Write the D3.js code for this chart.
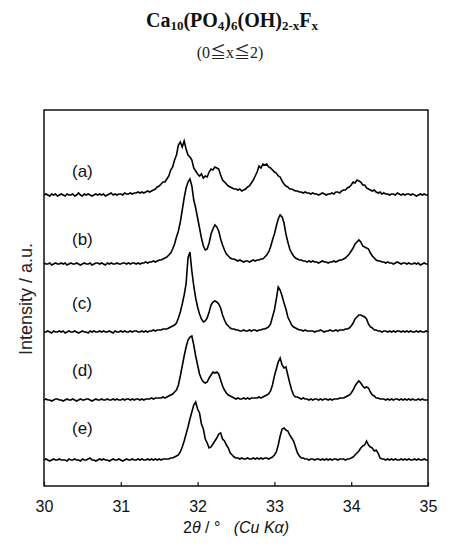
<!DOCTYPE html>
<html>
<head>
<meta charset="utf-8">
<script src="https://cdn.jsdelivr.net/npm/d3@7"></script>
<style>
  body { margin: 0; background: #fff; }
</style>
</head>
<body>
<svg id="chart" width="459" height="548"></svg>
<script>
// XRD patterns sampled every 0.025 deg from 30 to 35 (2theta), intensity in a.u.
const thetaStart = 30;
const thetaStep = 0.025;
const xTicks = [30, 31, 32, 33, 34, 35];
const sampleNames = ["(a)", "(b)", "(c)", "(d)", "(e)"];
const offsets = [291, 222, 154, 86, 26];   // vertical stacking of the patterns (a.u.)

const seriesA = [
  0, 1, 0, -1, 1, 0, 1, -1, 0, 1,
  0, -1, 1, 0, 0, 1, -1, 0, 2, 0,
  -1, 1, 0, 1, 0, -1, 0, 1, 0, 1,
  0, 1, -1, 0, 1, 2, 0, 1, 0, 1,
  1, 0, 2, 1, 1, 2, 1, 2, 2, 3,
  2, 3, 2, 3, 4, 3, 4, 5, 6, 8,
  9, 11, 13, 13, 16, 19, 25, 28, 35, 40,
  50, 53, 48, 54, 46, 40, 38, 35, 27, 24,
  21, 19, 21, 17, 19, 18, 23, 26, 25, 28,
  27, 26, 20, 15, 13, 11, 9, 8, 7, 6,
  6, 5, 6, 4, 5, 6, 8, 9, 12, 15,
  19, 23, 29, 27, 31, 30, 31, 28, 27, 25,
  23, 22, 19, 18, 14, 11, 9, 8, 6, 6,
  5, 4, 4, 3, 3, 2, 3, 2, 2, 1,
  2, 1, 1, 0, 1, 2, 1, 0, 1, 1,
  2, 1, 3, 3, 2, 4, 5, 5, 7, 8,
  10, 13, 12, 15, 14, 13, 10, 10, 7, 6,
  5, 4, 5, 3, 2, 3, 1, 2, 1, 1,
  0, 1, 1, 0, 2, 1, 0, 1, 0, 1,
  1, 0, 1, 0, -1, 0, 1, 0, 1, 0,
  0
];

const seriesB = [
  1, 0, 0, 1, -1, 0, 1, 0, 0, 1,
  0, 1, -1, 0, 1, 0, 0, 1, 0, -1,
  0, 1, 0, 0, 1, -1, 0, 1, 1, 0,
  1, 0, -1, 1, 0, 1, 0, 0, 1, 0,
  0, 1, 1, 0, 1, 0, 1, 1, 0, 1,
  0, 1, 1, 2, 1, 2, 2, 3, 2, 3,
  4, 4, 5, 6, 7, 9, 11, 15, 20, 27,
  33, 42, 54, 66, 76, 82, 85, 78, 64, 56,
  46, 36, 26, 18, 14, 15, 21, 30, 35, 39,
  37, 33, 25, 19, 14, 10, 8, 6, 5, 5,
  4, 3, 4, 3, 2, 3, 3, 2, 3, 4,
  3, 4, 4, 5, 5, 7, 9, 12, 17, 24,
  30, 38, 45, 49, 47, 41, 30, 22, 15, 11,
  8, 6, 5, 4, 4, 3, 3, 2, 3, 2,
  3, 2, 2, 1, 2, 3, 2, 2, 1, 2,
  2, 3, 2, 3, 4, 4, 5, 6, 8, 10,
  13, 16, 20, 22, 24, 22, 18, 17, 16, 15,
  11, 8, 6, 4, 3, 3, 2, 2, 1, 2,
  1, 1, 0, 1, 2, 1, 0, 1, 1, 0,
  1, 0, 0, 1, 0, 1, -1, 0, 1, 0,
  0
];

const seriesC = [
  0, 0, 1, 0, -1, 1, 0, 0, 1, 0,
  1, -1, 0, 1, 0, 0, 1, 0, -1, 0,
  1, 0, 0, -1, 1, 0, 1, 0, 0, 1,
  0, 1, 0, 0, 1, 0, -1, 1, 0, 0,
  1, 0, 1, 0, 0, 1, 0, 1, 1, 0,
  0, 1, 0, 1, 0, 1, 1, 2, 1, 2,
  2, 2, 3, 3, 3, 4, 5, 6, 7, 9,
  14, 20, 28, 37, 48, 74, 80, 61, 46, 34,
  25, 18, 13, 10, 11, 14, 20, 27, 30, 31,
  30, 28, 24, 17, 12, 8, 6, 4, 3, 3,
  2, 2, 1, 1, 2, 1, 1, 2, 1, 2,
  2, 1, 2, 2, 3, 3, 4, 5, 8, 15,
  22, 33, 45, 42, 36, 29, 23, 15, 11, 7,
  5, 4, 3, 2, 2, 1, 2, 1, 1, 1,
  1, 0, 1, 1, 2, 1, 0, 1, 1, 2,
  1, 1, 2, 1, 2, 2, 2, 3, 3, 4,
  6, 9, 13, 15, 17, 17, 16, 15, 13, 8,
  5, 4, 2, 2, 1, 1, 0, 1, 1, 0,
  1, 0, 1, 0, 1, 1, 0, 1, 0, 1,
  0, 1, 0, 0, 1, 0, 1, 0, 0, 1,
  0
];

const seriesD = [
  0, 1, 0, 0, -1, 0, 1, 1, 0, 0,
  -1, 0, 1, 0, 0, 1, 0, -1, 0, 1,
  0, 0, 1, 1, 0, -1, 0, 1, 0, 0,
  1, 0, 0, 1, 0, 0, 1, 0, 1, 0,
  0, 1, 0, 1, 1, 0, 1, 0, 1, 1,
  0, 1, 0, 1, 1, 1, 2, 1, 2, 2,
  2, 2, 3, 2, 3, 4, 5, 6, 8, 10,
  15, 24, 34, 44, 53, 60, 63, 64, 55, 44,
  35, 26, 21, 18, 17, 18, 22, 25, 28, 27,
  28, 26, 20, 14, 10, 7, 5, 4, 3, 2,
  1, 2, 1, 1, 2, 1, 2, 1, 2, 2,
  2, 2, 3, 2, 3, 4, 5, 6, 9, 15,
  24, 31, 38, 42, 35, 32, 33, 25, 17, 10,
  5, 3, 3, 2, 1, 2, 1, 1, 0, 1,
  0, 1, 1, 0, 1, 0, 1, 1, 0, 1,
  0, 1, 1, 1, 2, 2, 2, 3, 4, 5,
  7, 10, 14, 17, 19, 17, 14, 12, 13, 12,
  8, 5, 4, 2, 2, 1, 1, 1, 0, 1,
  0, 1, 0, 1, 1, 0, 1, 0, 1, 0,
  1, 0, 1, 0, 0, 1, 0, 1, 0, 0,
  0
];

const seriesE = [
  0, 1, 0, -1, 0, 1, 0, 0, 1, 0,
  0, 0, -1, 1, 0, 0, 1, 0, 0, -1,
  1, 0, 0, 1, 2, 0, 0, -1, 0, 1,
  0, 1, 0, 0, -1, 0, 1, 0, 0, 1,
  0, -1, 0, 1, 0, 0, 1, 0, 0, 1,
  0, 1, 0, 0, 1, 0, 1, 0, 1, 0,
  1, 0, 1, 1, 1, 1, 2, 2, 3, 4,
  5, 8, 13, 19, 26, 33, 41, 48, 55, 58,
  51, 47, 36, 31, 21, 17, 12, 13, 16, 19,
  22, 26, 27, 21, 19, 15, 12, 7, 5, 3,
  2, 2, 1, 2, 1, 1, 2, 1, 1, 2,
  1, 2, 1, 2, 1, 2, 2, 1, 2, 3,
  5, 8, 15, 24, 31, 32, 30, 29, 25, 22,
  19, 13, 7, 4, 2, 2, 1, 1, 0, 1,
  1, 0, 1, 1, 0, 1, 0, 1, 0, 1,
  0, 1, 1, 0, 1, 1, 1, 0, 1, 1,
  2, 3, 5, 7, 9, 12, 14, 15, 19, 15,
  13, 12, 9, 10, 7, 2, 1, 1, 0, 1,
  0, 1, 0, 1, 0, 0, 1, 0, 1, 0,
  1, 0, 0, 1, 0, 1, 0, 0, 1, 0,
  0
];

const allSeries = [seriesA, seriesB, seriesC, seriesD, seriesE];

// layout
const margin = { top: 110, right: 31, bottom: 62, left: 44 };
const width = 459 - margin.left - margin.right;
const height = 548 - margin.top - margin.bottom;
const labelLift = [18, 19, 23, 24, 26];
const sansFont = "'Liberation Sans', Arial, Helvetica, sans-serif";
const serifFont = "'Liberation Serif', 'Times New Roman', 'Noto Sans CJK JP', serif";

const svg = d3.select("#chart");

const x = d3.scaleLinear().domain([30, 35]).range([margin.left, margin.left + width]);
const y = d3.scaleLinear().domain([0, 376]).range([margin.top + height, margin.top]);

// title with subscripts
const titleParts = [["Ca", 0], ["10", 1], ["(PO", 0], ["4", 1], [")", 0], ["6", 1],
                    ["(OH)", 0], ["2-x", 1], ["F", 0], ["x", 1]];
const title = svg.append("text")
    .attr("x", 232)
    .attr("y", 27)
    .attr("text-anchor", "middle")
    .attr("font-family", serifFont)
    .attr("font-weight", "bold")
    .attr("font-size", "20px")
    .attr("fill", "#111");
let shifted = false;
titleParts.forEach(([t, sub]) => {
    const dy = sub && !shifted ? 3 : (!sub && shifted ? -3 : 0);
    shifted = !!sub;
    title.append("tspan")
        .attr("dy", dy)
        .attr("font-size", sub ? "13px" : "20px")
        .text(t);
});

svg.append("text")
    .attr("x", 230)
    .attr("y", 58)
    .attr("text-anchor", "middle")
    .attr("font-family", serifFont)
    .attr("font-size", "16px")
    .attr("fill", "#222")
    .text("(0≦x≦2)");

// patterns
allSeries.forEach((values, k) => {
    const line = d3.line()
        .x((d, i) => x(thetaStart + i * thetaStep))
        .y(d => y(d + offsets[k]));
    svg.append("path")
        .datum(values)
        .attr("fill", "none")
        .attr("stroke", "#000")
        .attr("stroke-width", 1.6)
        .attr("stroke-linejoin", "miter")
        .attr("d", line);

    svg.append("text")
        .attr("x", 72)
        .attr("y", y(offsets[k]) - labelLift[k])
        .attr("font-family", sansFont)
        .attr("font-size", "17px")
        .attr("fill", "#111")
        .text(sampleNames[k]);
});

// frame
svg.append("rect")
    .attr("x", margin.left)
    .attr("y", margin.top)
    .attr("width", width)
    .attr("height", height)
    .attr("fill", "none")
    .attr("stroke", "#111")
    .attr("stroke-width", 1.5);

// x axis, ticks pointing inwards
const xAxis = svg.append("g")
    .attr("transform", `translate(0, ${margin.top + height})`)
    .call(d3.axisBottom(x)
        .tickValues(xTicks)
        .tickSizeInner(-4)
        .tickSizeOuter(0)
        .tickPadding(15)
        .tickFormat(d3.format("d")));
xAxis.select(".domain").remove();
xAxis.selectAll(".tick line").attr("stroke", "#111").attr("stroke-width", 1.2);
xAxis.selectAll(".tick text")
    .attr("font-family", sansFont)
    .attr("font-size", "16px")
    .attr("fill", "#111");

const xLabel = svg.append("text")
    .attr("x", 236)
    .attr("y", 533)
    .attr("text-anchor", "middle")
    .attr("font-family", sansFont)
    .attr("font-size", "16px")
    .attr("fill", "#111")
    .style("white-space", "pre");
xLabel.append("tspan").text("2");
xLabel.append("tspan").attr("font-style", "italic").text("θ");
xLabel.append("tspan").text(" / °   ");
xLabel.append("tspan").attr("font-style", "italic").text("(Cu Kα)");

svg.append("text")
    .attr("transform", "rotate(-90)")
    .attr("x", -299)
    .attr("y", 32)
    .attr("text-anchor", "middle")
    .attr("font-family", sansFont)
    .attr("font-size", "18px")
    .attr("fill", "#222")
    .text("Intensity / a.u.");
</script>
</body>
</html>
